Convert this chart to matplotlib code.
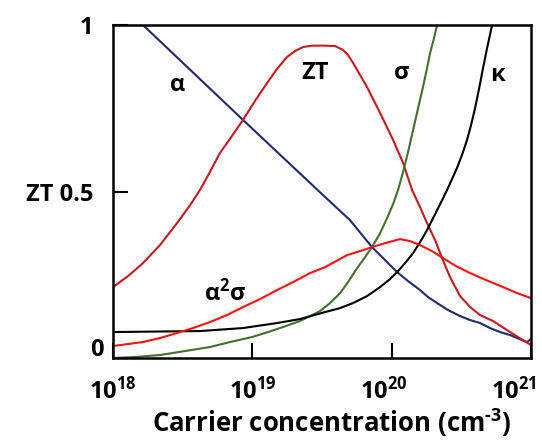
import numpy as np
import matplotlib
matplotlib.use("Agg")
import matplotlib.pyplot as plt
from matplotlib.transforms import ScaledTranslation

plt.rcParams['font.family'] = ['Open Sans', 'DejaVu Sans']
plt.rcParams['font.weight'] = 'bold'
plt.rcParams['axes.labelweight'] = 'bold'
plt.rcParams['mathtext.fontset'] = 'custom'
plt.rcParams['mathtext.rm'] = 'Open Sans:bold'
plt.rcParams['mathtext.bf'] = 'Open Sans:bold'
plt.rcParams['mathtext.it'] = 'Open Sans:bold'

# curves: log10(carrier concentration) and value
alpha_logn = [18.215, 18.933, 19.508, 19.701, 19.859, 19.953, 20.039, 20.118, 20.204,
              20.261, 20.326, 20.405, 20.491, 20.563, 20.635, 20.706, 20.778, 20.850,
              20.900, 20.950, 20.972, 21.0]
alpha_val = [1.0, 0.715, 0.489, 0.414, 0.333, 0.294, 0.258, 0.231, 0.204,
             0.183, 0.165, 0.144, 0.126, 0.114, 0.105, 0.090, 0.078, 0.069,
             0.060, 0.051, 0.048, 0.057]

zt_logn = [18.0, 18.108, 18.215, 18.337, 18.459, 18.553, 18.625, 18.696, 18.768,
           18.854, 18.933, 19.019, 19.106, 19.177, 19.249, 19.307, 19.364, 19.436,
           19.522, 19.594, 19.651, 19.687, 19.723, 19.773, 19.823, 19.917, 20.010,
           20.082, 20.146, 20.204, 20.254, 20.312, 20.362, 20.419, 20.491, 20.563,
           20.635, 20.728, 20.872, 21.0]
zt_val = [0.213, 0.246, 0.285, 0.339, 0.405, 0.459, 0.505, 0.559, 0.616,
          0.667, 0.715, 0.772, 0.826, 0.868, 0.904, 0.922, 0.934, 0.938,
          0.938, 0.937, 0.925, 0.910, 0.886, 0.850, 0.814, 0.736, 0.655,
          0.586, 0.505, 0.453, 0.405, 0.354, 0.300, 0.243, 0.186, 0.153,
          0.129, 0.111, 0.072, 0.039]

sigma_logn = [18.0, 18.158, 18.337, 18.517, 18.696, 18.840, 18.998, 19.113, 19.220,
              19.342, 19.414, 19.486, 19.558, 19.630, 19.687, 19.752, 19.809, 19.859,
              19.917, 19.967, 20.010, 20.046, 20.082, 20.118, 20.154, 20.190, 20.225,
              20.254, 20.276, 20.304, 20.326]
sigma_val = [0.0, 0.003, 0.009, 0.021, 0.033, 0.048, 0.063, 0.078, 0.093,
             0.111, 0.126, 0.141, 0.165, 0.195, 0.228, 0.270, 0.303, 0.333,
             0.375, 0.420, 0.462, 0.505, 0.559, 0.619, 0.685, 0.751, 0.814,
             0.871, 0.916, 0.961, 1.0]

kappa_logn = [18.0, 18.625, 18.933, 19.177, 19.342, 19.522, 19.630, 19.723, 19.823,
              19.917, 19.988, 20.039, 20.096, 20.154, 20.204, 20.254, 20.290, 20.326,
              20.362, 20.398, 20.434, 20.469, 20.505, 20.541, 20.570, 20.599, 20.627,
              20.656, 20.685, 20.721]
kappa_val = [0.078, 0.081, 0.090, 0.105, 0.117, 0.138, 0.150, 0.165, 0.186,
             0.213, 0.237, 0.258, 0.285, 0.315, 0.348, 0.384, 0.414, 0.444,
             0.474, 0.505, 0.538, 0.571, 0.610, 0.655, 0.700, 0.751, 0.808,
             0.871, 0.931, 1.0]

pf_logn = [18.0, 18.108, 18.215, 18.337, 18.459, 18.574, 18.696, 18.818, 18.933,
           19.055, 19.177, 19.292, 19.414, 19.522, 19.680, 19.773, 19.859, 19.953,
           20.060, 20.132, 20.204, 20.290, 20.369, 20.462, 20.563, 20.678, 20.800,
           20.900, 21.0]
pf_val = [0.036, 0.042, 0.048, 0.060, 0.075, 0.090, 0.108, 0.129, 0.153,
          0.177, 0.204, 0.228, 0.255, 0.273, 0.309, 0.321, 0.333, 0.345,
          0.357, 0.351, 0.339, 0.321, 0.300, 0.276, 0.255, 0.234, 0.213,
          0.195, 0.180]

xtick_vals = [1e18, 1e19, 1e20, 1e21]
xtick_labels = [r'$10^{18}$', r'$10^{19}$', r'$10^{20}$', r'$10^{21}$']
ytick_vals = [0, 0.5, 1]
ytick_labels = ['0', 'ZT 0.5', '1']

fig = plt.figure(figsize=(5.42, 4.42), dpi=100)
ax = fig.add_axes([0.2085, 0.190, 0.7712, 0.7534])

lw = 1.5
ax.plot(10 ** np.array(alpha_logn), alpha_val, color='#1f2a72', lw=lw)
ax.plot(10 ** np.array(zt_logn), zt_val, color='#c41a22', lw=lw)
ax.plot(10 ** np.array(sigma_logn), sigma_val, color='#43702f', lw=lw)
ax.plot(10 ** np.array(kappa_logn), kappa_val, color='black', lw=lw)
ax.plot(10 ** np.array(pf_logn), pf_val, color='#ff1010', lw=lw)

ax.set_xscale('log')
ax.set_xlim(1e18, 1e21)
ax.set_ylim(0, 1)
ax.minorticks_off()
ax.set_xticks(xtick_vals)
ax.set_xticklabels(xtick_labels)
ax.set_yticks(ytick_vals)
ax.set_yticklabels(ytick_labels)
ax.tick_params(direction='in', length=11, width=1.5, labelsize=17, top=False, right=False)
ax.tick_params(axis='x', pad=14)
ax.tick_params(axis='y', pad=14)

for sp in ax.spines.values():
    sp.set_linewidth(1.8)

# the "0" label sits a little higher and closer to the axis
for lab in ax.get_yticklabels():
    if lab.get_text() == '0':
        lab.set_transform(lab.get_transform() + ScaledTranslation(0.10, 0.11, fig.dpi_scale_trans))

# the last two x labels are nudged left in the original
xshift = {r'$10^{20}$': -0.08, r'$10^{21}$': -0.17}
for lab in ax.get_xticklabels():
    if lab.get_text() in xshift:
        lab.set_transform(lab.get_transform() + ScaledTranslation(xshift[lab.get_text()], 0, fig.dpi_scale_trans))

ax.set_xlabel('Carrier concentration (cm$^{\\text{-}3}$)', fontsize=18.5,
              fontweight='bold', labelpad=1)
ax.xaxis.label.set_x(0.524)

# curve labels
txt = dict(fontsize=17, ha='center', va='center', fontweight='bold')
ax.text(10 ** 18.467, 0.82, 'α', **txt)
ax.text(10 ** 19.45, 0.856, 'ZT', **txt)
ax.text(10 ** 20.075, 0.856, 'σ', **txt)
ax.text(10 ** 20.757, 0.85, 'κ', **txt)
ax.text(10 ** 18.804, 0.195, r'α$^{2}$σ', **txt)

fig.savefig('out.png', dpi=100)
